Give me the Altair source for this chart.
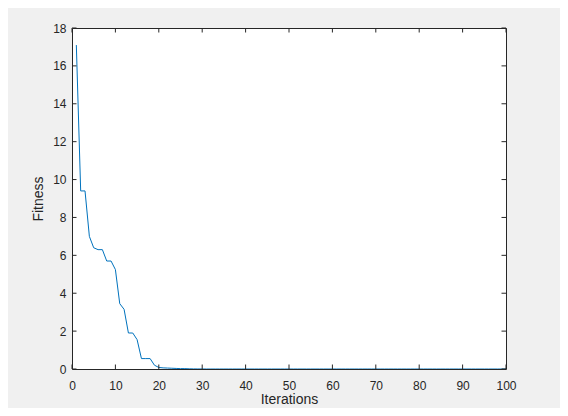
import altair as alt
import pandas as pd

iterations = list(range(1, 101))
fitness_head = [17.1, 9.4, 9.4, 7.0, 6.4, 6.3, 6.3, 5.7, 5.7, 5.25,
                3.45, 3.15, 1.9, 1.9, 1.55, 0.55, 0.55, 0.55, 0.2, 0.08,
                0.06, 0.05, 0.04, 0.03, 0.02, 0.02, 0.01, 0.005, 0.003, 0.002]
fitness_tail = [0.0] * (100 - len(fitness_head))
fitness = fitness_head + fitness_tail

x_ticks = [0, 10, 20, 30, 40, 50, 60, 70, 80, 90, 100]
y_ticks = [0, 2, 4, 6, 8, 10, 12, 14, 16, 18]

df = pd.DataFrame({"Iteration": iterations, "Fitness": fitness})
dfx = pd.DataFrame({"Iteration": x_ticks})
dfy = pd.DataFrame({"Fitness": y_ticks})

W, H = 434, 341
TL = 4.5
AX = "#262626"
FONT = "Liberation Sans"

xscale = alt.Scale(domain=[0, 100], nice=False, zero=False)
yscale = alt.Scale(domain=[0, 18], nice=False, zero=False)

xaxis = alt.Axis(values=x_ticks, title="Iterations", grid=False, ticks=False,
                 tickSize=0, domain=False, labelPadding=11, titlePadding=1.5,
                 labelFontSize=12, titleFontSize=14, labelFont=FONT, titleFont=FONT,
                 labelColor=AX, titleColor=AX, titleFontWeight="normal",
                 labelFlush=False)
yaxis = alt.Axis(values=y_ticks, title="Fitness", grid=False, ticks=False,
                 tickSize=0, domain=False, labelPadding=6, titlePadding=7,
                 labelFontSize=12, titleFontSize=14, labelFont=FONT, titleFont=FONT,
                 labelColor=AX, titleColor=AX, titleFontWeight="normal",
                 labelFlush=False)

line = alt.Chart(df).mark_line(color="#0072BD", strokeWidth=1, clip=True).encode(
    x=alt.X("Iteration:Q", scale=xscale, axis=xaxis),
    y=alt.Y("Fitness:Q", scale=yscale, axis=yaxis),
)

bx = alt.Chart(dfx).mark_rule(color=AX, strokeWidth=1).encode(
    x=alt.X("Iteration:Q", scale=xscale, axis=xaxis), y=alt.value(H), y2=alt.value(H - TL))
tx = alt.Chart(dfx).mark_rule(color=AX, strokeWidth=1).encode(
    x=alt.X("Iteration:Q", scale=xscale, axis=xaxis), y=alt.value(0), y2=alt.value(TL))
ly = alt.Chart(dfy).mark_rule(color=AX, strokeWidth=1).encode(
    y=alt.Y("Fitness:Q", scale=yscale, axis=yaxis), x=alt.value(0), x2=alt.value(TL))
ry = alt.Chart(dfy).mark_rule(color=AX, strokeWidth=1).encode(
    y=alt.Y("Fitness:Q", scale=yscale, axis=yaxis), x=alt.value(W), x2=alt.value(W - TL))

chart = alt.layer(line, bx, tx, ly, ry).properties(
    width=W, height=H,
    autosize=alt.AutoSizeParams(type="none"),
    padding={"left": 64, "top": 20, "right": 54, "bottom": 39},
    background="#f0f0f0",
).configure_view(fill="white", stroke=AX, strokeWidth=1)

chart.save("out.html", embed_options={"renderer": "svg", "actions": False})
